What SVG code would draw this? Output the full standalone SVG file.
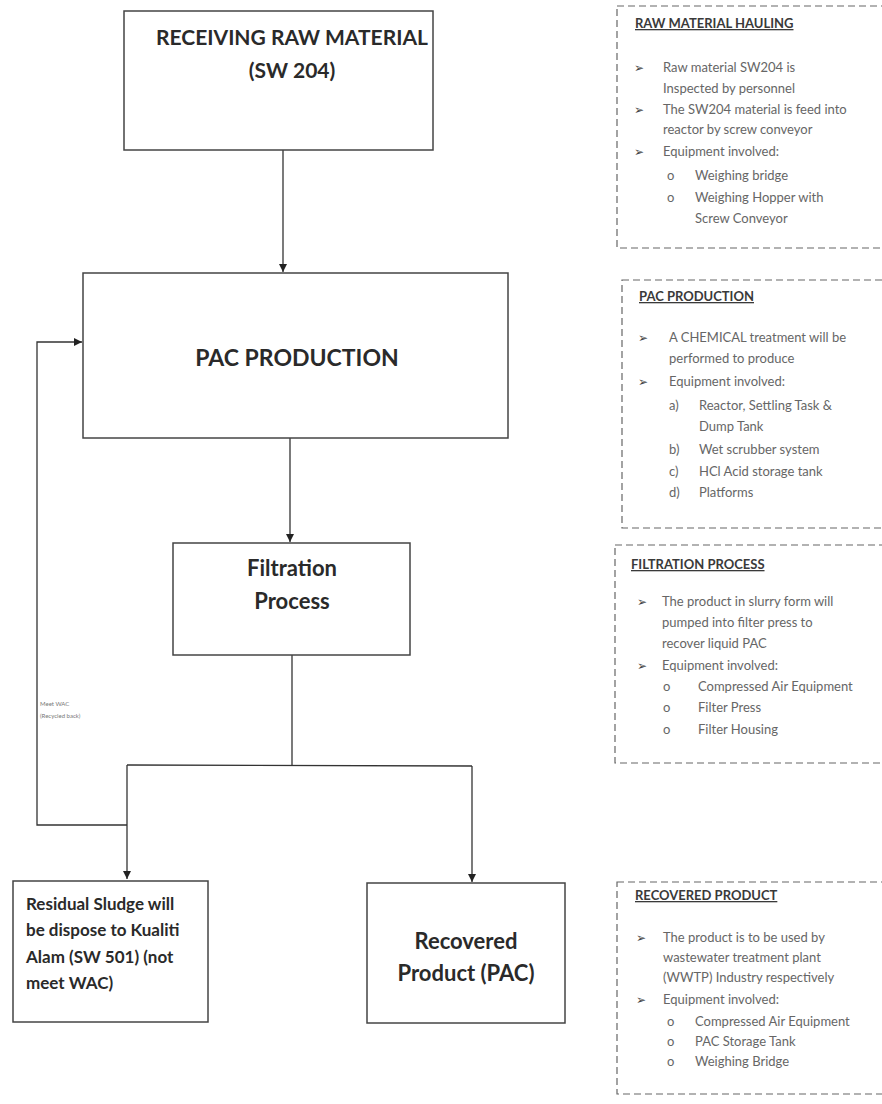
<svg xmlns="http://www.w3.org/2000/svg" width="882" height="1104" viewBox="0 0 882 1104">
  <defs>
    <marker id="arrow" markerUnits="userSpaceOnUse" markerWidth="9" markerHeight="9" refX="8" refY="4" orient="auto">
      <path d="M0,0 L8,4 L0,8 z" fill="#222"/>
    </marker>
    <style>
      .box { fill: #fff; stroke: #444; stroke-width: 1.5; }
      .note { fill: none; stroke: #666; stroke-width: 1.2; stroke-dasharray: 7 4; }
      .conn { fill: none; stroke: #333; stroke-width: 1.3; }
      .main { font-family: Lato, "Liberation Sans", sans-serif; font-weight: bold; fill: #2a2a2a; }
      .title { font-family: Lato, "Liberation Sans", sans-serif; font-weight: bold; font-size: 13px; fill: #3a3a3a; text-decoration: underline; }
      .body { font-family: Lato, "Liberation Sans", sans-serif; font-size: 13px; fill: #666; }
      .mark { font-family: "DejaVu Sans", sans-serif; font-size: 12px; fill: #444; }
      .tiny { font-family: Lato, "Liberation Sans", sans-serif; font-size: 6px; fill: #777; }
    </style>
  </defs>
  <rect width="882" height="1104" fill="#fff"/>

  <!-- process connectors -->
  <g id="connectors">
    <line class="conn" x1="283" y1="150" x2="283" y2="272" marker-end="url(#arrow)"/>
    <line class="conn" x1="290" y1="438" x2="290" y2="542" marker-end="url(#arrow)"/>
    <line class="conn" x1="292" y1="655" x2="292" y2="765"/>
    <polyline class="conn" points="127,765 472,766"/>
    <line class="conn" x1="127" y1="765" x2="127" y2="879" marker-end="url(#arrow)"/>
    <line class="conn" x1="472" y1="766" x2="472" y2="882" marker-end="url(#arrow)"/>
    <polyline class="conn" points="127,825 37,825 37,342 82,342" marker-end="url(#arrow)"/>
    <text class="tiny" x="40" y="706">Meet WAC</text>
    <text class="tiny" x="40" y="718">(Recycled back)</text>
  </g>

  <!-- flow nodes -->
  <g id="receiving">
    <rect class="box" x="124" y="11" width="309" height="139"/>
    <text class="main" font-size="21" x="292" y="45" text-anchor="middle">RECEIVING RAW MATERIAL</text>
    <text class="main" font-size="21" x="292" y="78" text-anchor="middle">(SW 204)</text>
  </g>

  <g id="pac-production">
    <rect class="box" x="83" y="273" width="425" height="165"/>
    <text class="main" font-size="23" x="297" y="366" text-anchor="middle">PAC PRODUCTION</text>
  </g>

  <g id="filtration">
    <rect class="box" x="173" y="543" width="237" height="112"/>
    <text class="main" font-size="22" x="292" y="576" text-anchor="middle">Filtration</text>
    <text class="main" font-size="22" x="292" y="609" text-anchor="middle">Process</text>
  </g>

  <g id="residual">
    <rect class="box" x="13" y="881" width="195" height="141"/>
    <text class="main" font-size="17">
      <tspan x="26" y="910">Residual Sludge will</tspan>
      <tspan x="26" y="936">be dispose to Kualiti</tspan>
      <tspan x="26" y="963">Alam (SW 501) (not</tspan>
      <tspan x="26" y="989">meet WAC)</tspan>
    </text>
  </g>

  <g id="recovered">
    <rect class="box" x="367" y="883" width="198" height="140"/>
    <text class="main" font-size="22" x="466" y="949" text-anchor="middle">Recovered</text>
    <text class="main" font-size="22" x="466" y="981" text-anchor="middle">Product (PAC)</text>
  </g>

  <!-- side notes -->
  <g id="note-hauling">
    <rect class="note" x="617" y="6" width="280" height="242"/>
    <text class="title" x="635" y="28">RAW MATERIAL HAULING</text>
    <text class="mark">
      <tspan x="634" y="72">➢</tspan>
      <tspan x="634" y="114">➢</tspan>
      <tspan x="634" y="156">➢</tspan>
    </text>
    <text class="body">
      <tspan x="663" y="72">Raw material SW204 is</tspan>
      <tspan x="663" y="93">Inspected by personnel</tspan>
      <tspan x="663" y="114">The SW204 material is feed into</tspan>
      <tspan x="663" y="134">reactor by screw conveyor</tspan>
      <tspan x="663" y="156">Equipment involved:</tspan>
      <tspan x="667" y="180">o</tspan><tspan x="695" y="180">Weighing bridge</tspan>
      <tspan x="667" y="202">o</tspan><tspan x="695" y="202">Weighing Hopper with</tspan>
      <tspan x="695" y="223">Screw Conveyor</tspan>
    </text>
  </g>

  <g id="note-pac">
    <rect class="note" x="622" y="280" width="275" height="248"/>
    <text class="title" x="639" y="301">PAC PRODUCTION</text>
    <text class="mark">
      <tspan x="638" y="342">➢</tspan>
      <tspan x="638" y="386">➢</tspan>
    </text>
    <text class="body">
      <tspan x="669" y="342">A CHEMICAL treatment will be</tspan>
      <tspan x="669" y="363">performed to produce</tspan>
      <tspan x="669" y="386">Equipment involved:</tspan>
      <tspan x="669" y="410">a)</tspan><tspan x="699" y="410">Reactor, Settling Task &amp;</tspan>
      <tspan x="699" y="431">Dump Tank</tspan>
      <tspan x="669" y="454">b)</tspan><tspan x="699" y="454">Wet scrubber system</tspan>
      <tspan x="669" y="476">c)</tspan><tspan x="699" y="476">HCl Acid storage tank</tspan>
      <tspan x="669" y="497">d)</tspan><tspan x="699" y="497">Platforms</tspan>
    </text>
  </g>

  <g id="note-filtration">
    <rect class="note" x="615" y="545" width="282" height="218"/>
    <text class="title" x="631" y="569">FILTRATION PROCESS</text>
    <text class="mark">
      <tspan x="637" y="606">➢</tspan>
      <tspan x="637" y="670">➢</tspan>
    </text>
    <text class="body">
      <tspan x="662" y="606">The product in slurry form will</tspan>
      <tspan x="662" y="627">pumped into filter press to</tspan>
      <tspan x="662" y="648">recover liquid PAC</tspan>
      <tspan x="662" y="670">Equipment involved:</tspan>
      <tspan x="663" y="691">o</tspan><tspan x="698" y="691">Compressed Air Equipment</tspan>
      <tspan x="663" y="712">o</tspan><tspan x="698" y="712">Filter Press</tspan>
      <tspan x="663" y="734">o</tspan><tspan x="698" y="734">Filter Housing</tspan>
    </text>
  </g>

  <g id="note-recovered">
    <rect class="note" x="617" y="882" width="280" height="212"/>
    <text class="title" x="635" y="900">RECOVERED PRODUCT</text>
    <text class="mark">
      <tspan x="636" y="942">➢</tspan>
      <tspan x="636" y="1004">➢</tspan>
    </text>
    <text class="body">
      <tspan x="663" y="942">The product is to be used by</tspan>
      <tspan x="663" y="962">wastewater treatment plant</tspan>
      <tspan x="663" y="982">(WWTP) Industry respectively</tspan>
      <tspan x="663" y="1004">Equipment involved:</tspan>
      <tspan x="667" y="1026">o</tspan><tspan x="695" y="1026">Compressed Air Equipment</tspan>
      <tspan x="667" y="1046">o</tspan><tspan x="695" y="1046">PAC Storage Tank</tspan>
      <tspan x="667" y="1066">o</tspan><tspan x="695" y="1066">Weighing Bridge</tspan>
    </text>
  </g>
</svg>
